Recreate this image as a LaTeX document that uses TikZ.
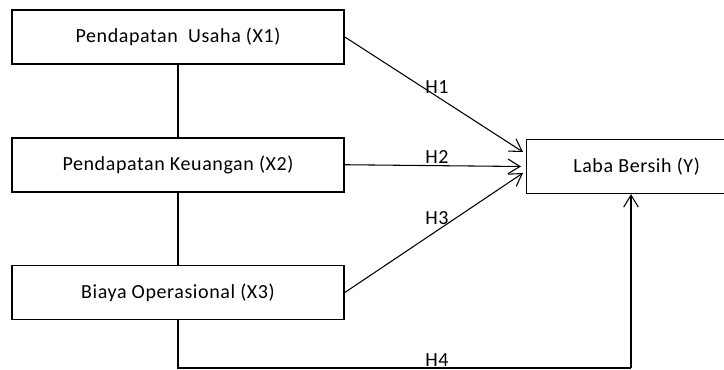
\documentclass[tikz,border=0pt]{standalone}
\usepackage{fontspec}
\setmainfont{Carlito}[LetterSpace=3]
\usepackage{tikz}
\usetikzlibrary{positioning,arrows.meta,calc}

\tikzset{
  var/.style={draw, line width=1.3pt, minimum width=249pt, minimum height=40.5pt, inner sep=0pt, font=\fontsize{15}{17}\selectfont},
  lbl/.style={inner sep=0pt, font=\fontsize{15}{17}\selectfont},
  hyp/.style={-{Straight Barb[length=9pt,width=11pt]}, line width=0.8pt}
}

\begin{document}
\begin{tikzpicture}[x=0.75pt, y=0.75pt, node distance=54pt]
  \useasboundingbox (0,0) rectangle (724,-370);
  \begin{scope}
  \clip (0,0) rectangle (724,-370);

  \node[var]                  (x1) at (178,-37) {Pendapatan\ \ Usaha (X1)};
  \node[var, below=of x1]     (x2) {Pendapatan Keuangan (X2)};
  \node[var, below=of x2]     (x3) {Biaya Operasional (X3)};

  \node[var, line width=0.9pt, minimum width=165pt, anchor=west] (y) at (526,-166.5) {Laba Bersih (Y)};

  \draw[line width=1.2pt] (x1) -- (x2);
  \draw[line width=1.2pt] (x2) -- (x3);

  \draw[hyp] (x1.east) -- ($(y.west)+(-3,14.5)$);
  \draw[hyp] (x2.east) -- ($(y.west)+(-5,0)$ |- x2.east);
  \draw[hyp] (x3.east) -- ($(y.west)+(-3,-6.5)$);

  \coordinate (turn) at (631,-368);
  \draw[line width=1.4pt] (x3.south) |- (turn);
  \draw[hyp] (turn) -- (turn |- y.south);

  \node[lbl] (h1) at (437,-87)  {H1};
  \node[lbl] (h2) at (437,-157) {H2};
  \node[lbl] (h3) at (437,-218) {H3};
  \node[lbl] (h4) at (437,-360) {H4};
  \end{scope}
\end{tikzpicture}
\end{document}
